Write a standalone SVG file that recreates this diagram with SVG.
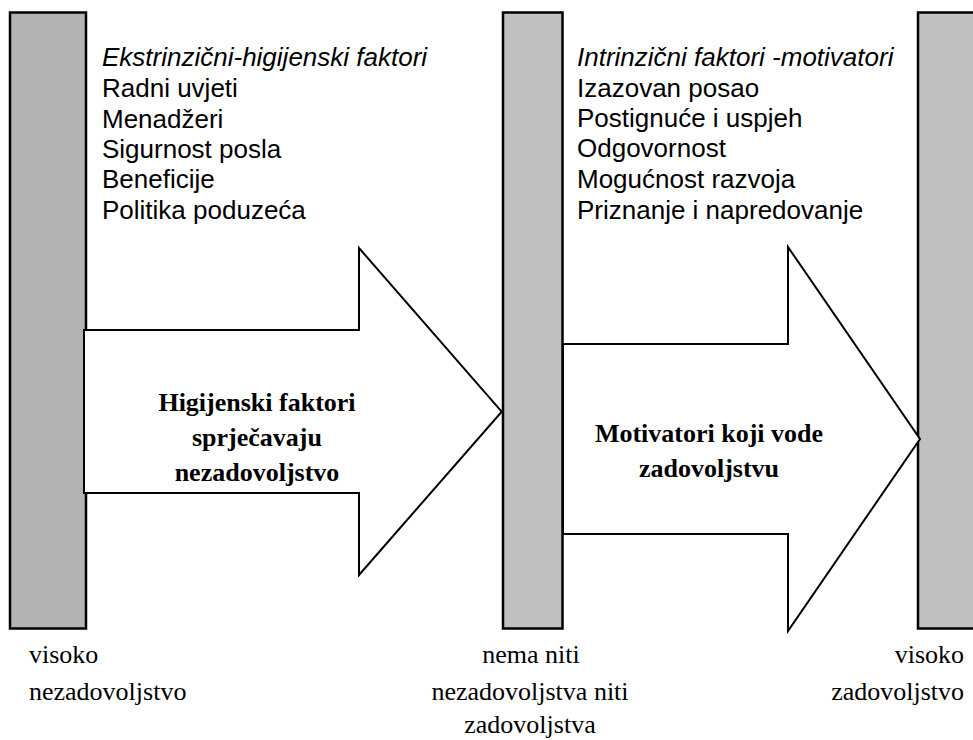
<svg xmlns="http://www.w3.org/2000/svg" width="973" height="740" viewBox="0 0 973 740">
<style>
.bar{stroke:#000;stroke-width:2.5}
.arr{fill:#fff;stroke:#000;stroke-width:2;stroke-linejoin:miter}
.sans{font-family:"Liberation Sans",Arial,sans-serif;font-size:26px;fill:#000}
.it{font-style:italic}
.serif{font-family:"Liberation Serif","Times New Roman",serif;font-size:26px;fill:#000}
.b{font-weight:bold}
</style>
<rect width="973" height="740" fill="#fff"/>
<g id="bar-left"><rect class="bar" x="10" y="12.5" width="76" height="616" fill="#b3b3b3"/></g>
<g id="bar-middle"><rect class="bar" x="503" y="12.5" width="59.5" height="616" fill="#c0c0c0"/></g>
<g id="bar-right"><rect class="bar" x="918" y="12.5" width="70" height="616" fill="#c0c0c0"/></g>
<g id="connectors">
<g id="arrow-hygiene">
<polygon class="arr" points="84,330 359,330 359,248 501.7,411.7 359,575 359,493 84,493"/>
<text class="serif b" text-anchor="middle" x="257" y="411">Higijenski faktori</text>
<text class="serif b" text-anchor="middle" x="257" y="446">sprječavaju</text>
<text class="serif b" text-anchor="middle" x="257" y="481">nezadovoljstvo</text>
</g>
<g id="arrow-motivators">
<polygon class="arr" points="563,344 788,344 788,247 920,439 788,631 788,534 563,534"/>
<text class="serif b" text-anchor="middle" x="709" y="442">Motivatori koji vode</text>
<text class="serif b" text-anchor="middle" x="709" y="477">zadovoljstvu</text>
</g>
</g>
<g id="hygiene-list">
<text class="sans it" x="102" y="66">Ekstrinzični-higijenski faktori</text>
<text class="sans" x="102" y="97">Radni uvjeti</text>
<text class="sans" x="102" y="128">Menadžeri</text>
<text class="sans" x="102" y="158">Sigurnost posla</text>
<text class="sans" x="102" y="188">Beneficije</text>
<text class="sans" x="102" y="219">Politika poduzeća</text>
</g>
<g id="motivator-list">
<text class="sans it" x="577" y="66">Intrinzični faktori -motivatori</text>
<text class="sans" x="577" y="97">Izazovan posao</text>
<text class="sans" x="577" y="127">Postignuće i uspjeh</text>
<text class="sans" x="577" y="157">Odgovornost</text>
<text class="sans" x="577" y="188">Mogućnost razvoja</text>
<text class="sans" x="577" y="219">Priznanje i napredovanje</text>
</g>
<g id="label-left">
<text class="serif" x="29" y="663">visoko</text>
<text class="serif" x="29" y="700">nezadovoljstvo</text>
</g>
<g id="label-middle">
<text class="serif" text-anchor="middle" x="531" y="663">nema niti</text>
<text class="serif" text-anchor="middle" x="530" y="700">nezadovoljstva niti</text>
<text class="serif" text-anchor="middle" x="530" y="733">zadovoljstva</text>
</g>
<g id="label-right">
<text class="serif" text-anchor="end" x="964" y="663">visoko</text>
<text class="serif" text-anchor="end" x="964" y="700">zadovoljstvo</text>
</g>
</svg>
